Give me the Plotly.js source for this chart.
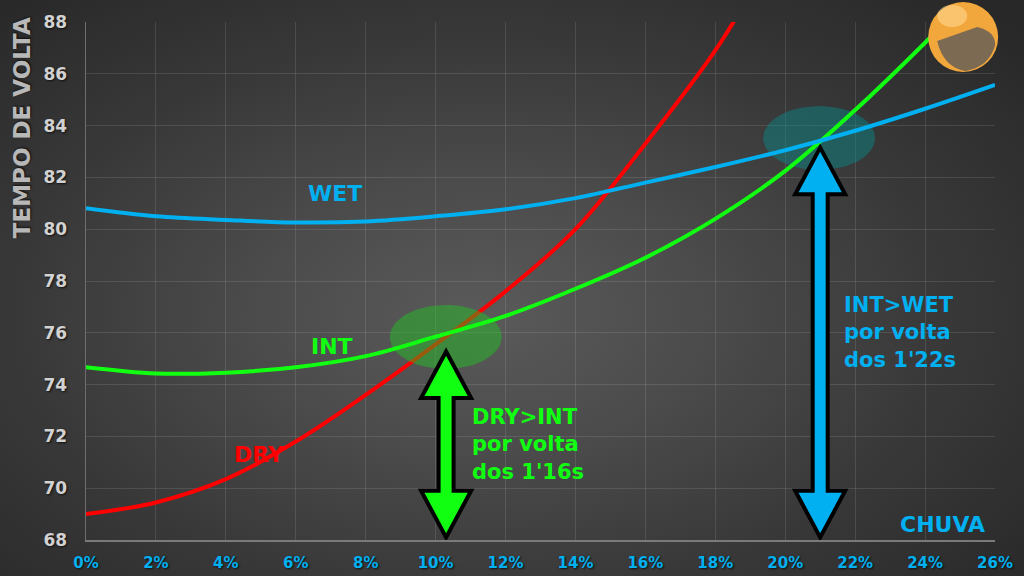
<!DOCTYPE html>
<html>
<head>
<meta charset="utf-8">
<script src="https://cdn.plot.ly/plotly-3.0.1.min.js"></script>
<style>
  html, body { margin: 0; padding: 0; width: 1024px; height: 576px; overflow: hidden; }
  #chart { width: 1024px; height: 576px;
    background: radial-gradient(ellipse 70% 75% at 47% 55%, #5a5a5a 0%, #4c4c4c 30%, #383838 65%, #282828 100%); }
</style>
</head>
<body>
<div id="chart"></div>
<script>
// ---- data ----
const xTickVals = [0, 2, 4, 6, 8, 10, 12, 14, 16, 18, 20, 22, 24, 26];
const xTickText = ['0%', '2%', '4%', '6%', '8%', '10%', '12%', '14%', '16%', '18%', '20%', '22%', '24%', '26%'];
const yTickVals = [68, 70, 72, 74, 76, 78, 80, 82, 84, 86, 88];

const dryX = [0, 2, 4, 6, 8, 10, 12, 14, 16, 18, 19];
const dryY = [69.0, 69.45, 70.35, 71.8, 73.6, 75.55, 77.6, 80.0, 83.3, 86.9, 89.1];

const intX = [0, 2, 4, 6, 8, 10, 12, 14, 16, 18, 20, 22, 24, 24.4];
const intY = [74.67, 74.43, 74.46, 74.67, 75.1, 75.85, 76.65, 77.7, 78.9, 80.4, 82.25, 84.6, 87.2, 87.75];

const wetX = [0, 2, 4, 6, 8, 10, 12, 14, 16, 18, 20, 22, 24, 26];
const wetY = [80.81, 80.5, 80.36, 80.26, 80.3, 80.5, 80.77, 81.2, 81.8, 82.4, 83.05, 83.8, 84.65, 85.57];

// crossover highlights (DRY>INT, INT>WET)
const crossX = [10.29, 20.97];
const crossY = [75.84, 83.52];
const crossRx = [1.6, 1.6];
const crossRy = [1.235, 1.235];
const crossFill = ['rgba(30,200,30,0.45)', 'rgba(0,150,150,0.4)'];

// double arrows
const arrowX = [10.3, 21.0];
const arrowTop = [75.28, 83.15];
const arrowBottom = [68.1, 68.1];
const arrowFill = ['#11ff11', '#00b0f0'];

const colDry = '#ff0000', colInt = '#11ff11', colWet = '#00b0f0';
const FONT = 'DejaVu Sans, Verdana, sans-serif';

// ---- traces ----
function ellipse(i) {
  const xs = [], ys = [];
  for (let k = 0; k <= 72; k++) {
    const t = 2 * Math.PI * k / 72;
    xs.push(crossX[i] + crossRx[i] * Math.cos(t));
    ys.push(crossY[i] + crossRy[i] * Math.sin(t));
  }
  return { x: xs, y: ys, mode: 'lines', fill: 'toself', fillcolor: crossFill[i],
           line: { width: 0 }, hoverinfo: 'skip', showlegend: false };
}

const lineStyle = c => ({ color: c, width: 4, shape: 'spline', smoothing: 1 });
const traces = [
  { x: dryX, y: dryY, mode: 'lines', name: 'DRY', line: lineStyle(colDry), showlegend: false },
  ellipse(0),
  ellipse(1),
  { x: intX, y: intY, mode: 'lines', name: 'INT', line: lineStyle(colInt), showlegend: false },
  { x: wetX, y: wetY, mode: 'lines', name: 'WET', line: lineStyle(colWet), showlegend: false }
];

// ---- arrows as shapes ----
const headH = 1.8, headW = 25, shaftW = 7.5;
const shapes = arrowX.map((ax, i) => {
  const t = arrowTop[i], b = arrowBottom[i];
  const path = `M 0 ${t} L ${headW} ${t - headH} L ${shaftW} ${t - headH} L ${shaftW} ${b + headH} ` +
               `L ${headW} ${b + headH} L 0 ${b} L ${-headW} ${b + headH} L ${-shaftW} ${b + headH} ` +
               `L ${-shaftW} ${t - headH} L ${-headW} ${t - headH} Z`;
  return { type: 'path', xref: 'x', yref: 'y', xsizemode: 'pixel', xanchor: ax, path: path,
           fillcolor: arrowFill[i], line: { color: '#000000', width: 4 }, layer: 'above' };
});

// avatar (orange helmet)
shapes.push({ type: 'circle', xref: 'paper', yref: 'paper', xsizemode: 'pixel', ysizemode: 'pixel',
  xanchor: 0.965, yanchor: 0.971, x0: -35, x1: 35, y0: -35, y1: 35,
  fillcolor: '#f2a73c', line: { width: 0 }, layer: 'above' });
shapes.push({ type: 'circle', xref: 'paper', yref: 'paper', xsizemode: 'pixel', ysizemode: 'pixel',
  xanchor: 0.965, yanchor: 0.971, x0: -26, x1: 4, y0: 10, y1: 32,
  fillcolor: 'rgba(255,220,150,0.55)', line: { width: 0 }, layer: 'above' });
shapes.push({ type: 'path', xref: 'paper', yref: 'paper', xsizemode: 'pixel', ysizemode: 'pixel',
  xanchor: 0.965, yanchor: 0.971,
  path: 'M -26 -4 L 14 10 Q 32 6 32 -8 Q 26 -30 2 -34 Q -20 -30 -26 -4 Z',
  fillcolor: '#7d6a52', line: { width: 0 }, layer: 'above' });

// ---- labels ----
const labelText = ['WET', 'INT', 'DRY', 'CHUVA'];
const labelX = [7.11, 7.03, 4.97, 24.49];
const labelY = [81.36, 75.49, 71.32, 68.58];
const labelColor = [colWet, colInt, colDry, colWet];

const noteText = ['DRY&gt;INT<br>por volta<br>dos 1\'16s', 'INT&gt;WET<br>por volta<br>dos 1\'22s'];
const noteX = [10.97, 21.63];
const noteY = [71.67, 76.0];
const noteColor = [colInt, colWet];

const annotations = [];
labelText.forEach((t, i) => annotations.push({
  x: labelX[i], y: labelY[i], xref: 'x', yref: 'y', text: t, showarrow: false,
  xanchor: 'center', yanchor: 'middle',
  font: { family: FONT, size: 22, weight: 700, color: labelColor[i] }
}));
noteText.forEach((t, i) => annotations.push({
  x: noteX[i], y: noteY[i], xref: 'x', yref: 'y', text: t, showarrow: false,
  xanchor: 'left', yanchor: 'middle', align: 'left',
  font: { family: FONT, size: 21, weight: 700, color: noteColor[i] }
}));
annotations.push({
  x: -0.0704, y: 0.795, xref: 'paper', yref: 'paper', text: 'TEMPO DE VOLTA', showarrow: false,
  textangle: -90, xanchor: 'center', yanchor: 'middle',
  font: { family: FONT, size: 23, weight: 700, color: '#b8b8b8', shadow: '1px 1px 2px #111' }
});

const layout = {
  width: 1024, height: 576,
  margin: { l: 86, r: 29, t: 22, b: 36 },
  paper_bgcolor: 'rgba(0,0,0,0)', plot_bgcolor: 'rgba(0,0,0,0)',
  showlegend: false,
  xaxis: {
    range: [0, 26], tickvals: xTickVals, ticktext: xTickText,
    showgrid: true, gridcolor: 'rgba(255,255,255,0.11)', gridwidth: 1,
    zeroline: false, showline: true, linecolor: '#7a7a7a', linewidth: 1.5,
    ticks: '', ticklabelstandoff: 8,
    tickfont: { family: FONT, size: 15, weight: 700, color: colWet, shadow: '1px 1px 2px #111' },
    fixedrange: true
  },
  yaxis: {
    range: [68, 88], tickvals: yTickVals,
    showgrid: true, gridcolor: 'rgba(255,255,255,0.11)', gridwidth: 1,
    zeroline: false, showline: true, linecolor: '#6e6e6e', linewidth: 1.5,
    ticks: '', ticklabelstandoff: 14,
    tickfont: { family: FONT, size: 17, weight: 700, color: '#d2d2d2', shadow: '1px 1px 2px #111' },
    fixedrange: true
  },
  shapes: shapes,
  annotations: annotations
};

Plotly.newPlot('chart', traces, layout, { displayModeBar: false, staticPlot: true });
</script>
</body>
</html>
